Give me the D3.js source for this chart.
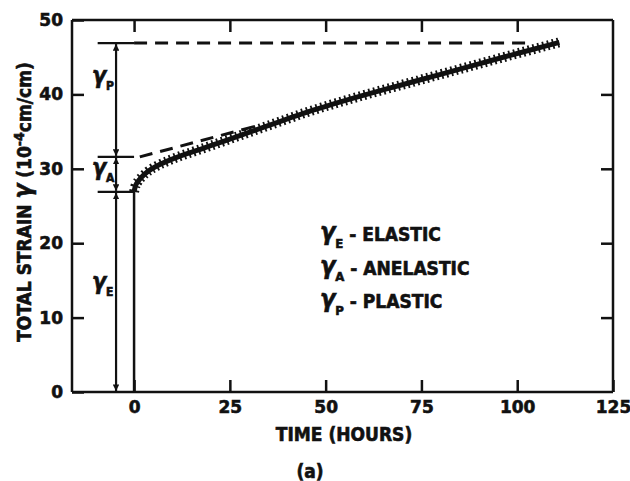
<!DOCTYPE html>
<html>
<head>
<meta charset="utf-8">
<script src="https://cdn.jsdelivr.net/npm/d3@7"></script>
<style>
  body { margin: 0; background: #fff; }
  svg text { font-family: "DejaVu Sans Condensed", "DejaVu Sans", sans-serif; font-weight: bold; fill: #111; stroke: #111; stroke-width: 0.6; }
  .axis path, .axis line { stroke: #111; stroke-width: 2.5; }
</style>
</head>
<body>
<div id="chart"></div>
<script>
// creep curve
const timeH  = [0, 0.3, 1, 2, 3.5, 6, 9, 12, 16, 20, 25, 30, 35, 40, 45, 50, 60, 70, 80, 90, 100, 111];
const strain = [26.9, 27.6, 28.3, 28.9, 29.6, 30.4, 31.1, 31.7, 32.4, 33.1, 34.0, 34.9, 35.8, 36.7, 37.6, 38.4, 39.9, 41.3, 42.7, 44.1, 45.5, 47.0];

// strain levels and construction lines
const levels = { E: 26.9, A: 31.6, P: 46.9 };
const arrowT = -4.7, markFrom = -9.5;
const dashA = [[1.5, 31.6], [33, 35.9]];
const dashP = [[0, 46.9], [103, 46.9]];

const xTicks = [0, 25, 50, 75, 100, 125];
const yTicks = [0, 10, 20, 30, 40, 50];
const legend = [["E", "ELASTIC"], ["A", "ANELASTIC"], ["P", "PLASTIC"]];

const W = 630, H = 481;
const margin = {top: 20, right: 17, bottom: 89, left: 72};
const width = W - margin.left - margin.right;
const height = H - margin.top - margin.bottom;

const svg = d3.select("#chart").append("svg").attr("width", W).attr("height", H);
const defs = svg.append("defs");
defs.append("marker").attr("id", "arr")
  .attr("viewBox", "0 0 10 10").attr("refX", 10).attr("refY", 5)
  .attr("markerWidth", 3).attr("markerHeight", 3)
  .attr("orient", "auto-start-reverse").attr("markerUnits", "strokeWidth")
  .append("path").attr("d", "M0,0 L10,5 L0,10 Z").attr("fill", "#111");

const g = svg.append("g").attr("transform", `translate(${margin.left},${margin.top})`);

const x = d3.scaleLinear().domain([-16.2, 125]).range([0, width]);
const y = d3.scaleLinear().domain([0, 50]).range([height, 0]);

// axes, ticks inward
g.append("g").attr("class", "axis").attr("transform", `translate(0,${height})`)
  .call(d3.axisBottom(x).tickValues(xTicks).tickSize(-12).tickFormat(d3.format("d")))
  .call(a => a.select(".domain").attr("d", `M0,0H${width}`))
  .selectAll("text").style("font-size", "17px").style("font-family", "DejaVu Sans").attr("dy", "0.35em").attr("y", 15);
g.append("g").attr("class", "axis")
  .call(d3.axisTop(x).tickValues([0, 25, 50, 75, 100]).tickSize(-12).tickFormat(""))
  .call(a => a.select(".domain").attr("d", `M0,0H${width}`));
g.append("g").attr("class", "axis")
  .call(d3.axisLeft(y).tickValues(yTicks).tickSize(-12))
  .call(a => a.select(".domain").attr("d", `M0,0V${height}`))
  .selectAll("text").style("font-size", "17px").style("font-family", "DejaVu Sans").attr("x", -9);
g.append("g").attr("class", "axis").attr("transform", `translate(${width},0)`)
  .call(d3.axisRight(y).tickValues([10, 20, 30, 40]).tickSize(-12).tickFormat(""))
  .call(a => a.select(".domain").attr("d", `M0,0V${height}`));

// vertical line at t = 0 (instant elastic strain)
g.append("line").attr("x1", x(0)).attr("x2", x(0)).attr("y1", y(0)).attr("y2", y(levels.E))
  .attr("stroke", "#111").attr("stroke-width", 2.5);

// short level marks
Object.values(levels).forEach(v => {
  g.append("line").attr("x1", x(markFrom)).attr("x2", x(0)).attr("y1", y(v)).attr("y2", y(v))
    .attr("stroke", "#111").attr("stroke-width", 2.2);
});

// dimension arrows
[[0, levels.E], [levels.E, levels.A], [levels.A, levels.P]].forEach(([a, b]) => {
  g.append("line").attr("x1", x(arrowT)).attr("x2", x(arrowT))
    .attr("y1", y(a) - 1).attr("y2", y(b) + 1)
    .attr("stroke", "#111").attr("stroke-width", 2.2)
    .attr("marker-start", "url(#arr)").attr("marker-end", "url(#arr)");
});

const line = d3.line().x(d => x(d[0])).y(d => y(d[1]));
[dashA, dashP].forEach(d => {
  g.append("path").attr("d", line(d)).attr("fill", "none")
    .attr("stroke", "#111").attr("stroke-width", 3).attr("stroke-dasharray", "13,8");
});

// thick hatched curve
const pts = timeH.map((t, i) => [t, strain[i]]);
const curve = d3.line().x(d => x(d[0])).y(d => y(d[1])).curve(d3.curveMonotoneX);
g.append("path").attr("d", curve(pts)).attr("fill", "none")
  .attr("stroke", "#111").attr("stroke-width", 5);
g.append("path").attr("d", curve(pts)).attr("fill", "none")
  .attr("stroke", "#111").attr("stroke-width", 10).attr("stroke-dasharray", "1.8,3.2");

// gamma labels by the arrows
function gamma(sel, sub, size, subSize) {
  sel.append("tspan").text("γ").style("font-size", size + "px").style("font-style", "italic");
  sel.append("tspan").text(sub).attr("dy", size * 0.3).style("font-size", subSize + "px");
}
[["P", 41.5], ["A", 29.2], ["E", 13.8]].forEach(([k, v]) => {
  const t = g.append("text").attr("x", x(-11)).attr("y", y(v));
  gamma(t, k, 23, 12);
});

// legend
legend.forEach(([k, label], i) => {
  const t = g.append("text").attr("x", x(48.5)).attr("y", y(20.4) + i * 33.5);
  gamma(t, k, 25, 13);
  t.append("tspan").text(" - " + label).attr("dy", -25 * 0.3 + 1).style("font-size", "19px");
});

// axis titles
svg.append("text").attr("x", 344).attr("y", 441).attr("text-anchor", "middle")
  .style("font-size", "19px").text("TIME (HOURS)");
svg.append("text").attr("x", 310).attr("y", 478).attr("text-anchor", "middle")
  .style("font-size", "19px").text("(a)");

const yt = svg.append("text").attr("transform", "translate(31,202) rotate(-90)")
  .attr("text-anchor", "middle").style("font-size", "19px");
yt.append("tspan").text("TOTAL STRAIN ");
yt.append("tspan").text("γ").style("font-size", "24px").style("font-style", "italic");
yt.append("tspan").text(" (10");
yt.append("tspan").text("-4").attr("dy", -7).style("font-size", "14px");
yt.append("tspan").text("cm/cm)").attr("dy", 7);
</script>
</body>
</html>
